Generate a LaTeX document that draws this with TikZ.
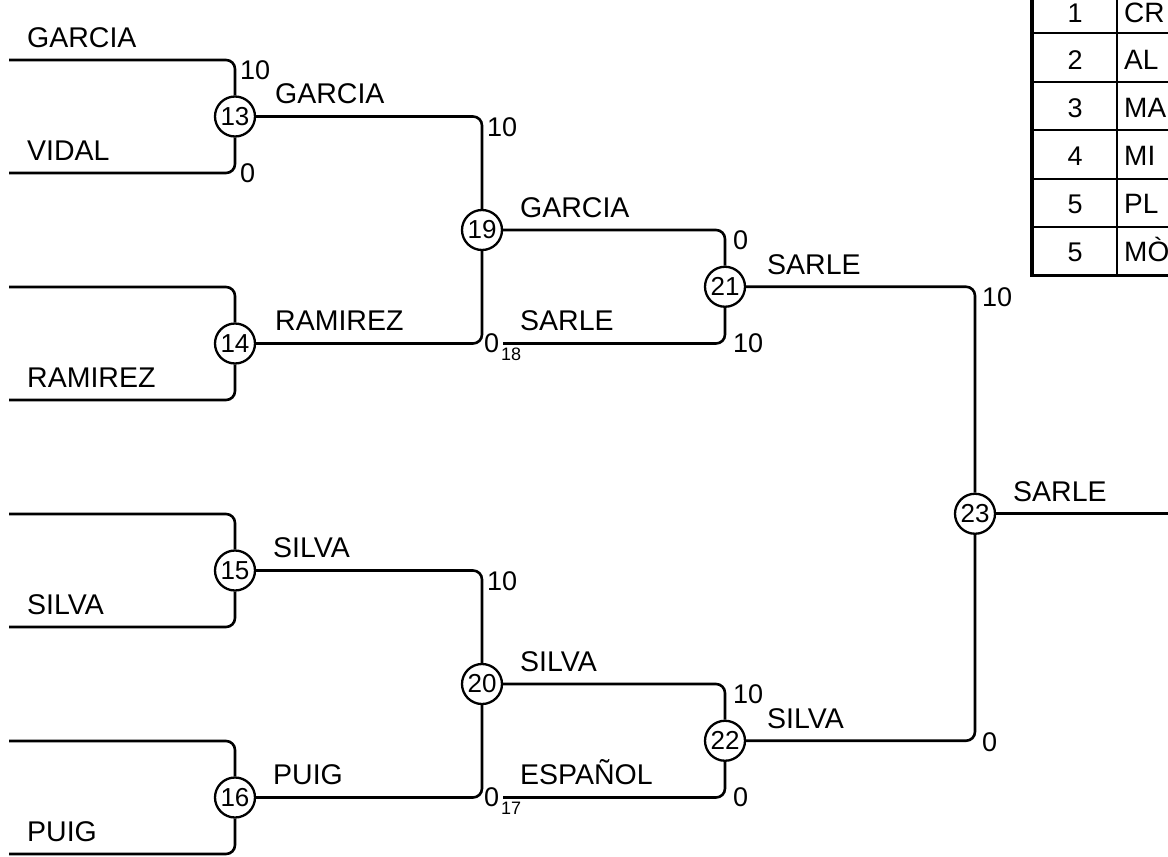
\documentclass[tikz,border=0pt]{standalone}
\usepackage{fontspec}
\setmainfont{Liberation Sans}
\begin{document}
\begin{tikzpicture}[x=1pt,y=-1pt,
 wire/.style={line width=2.6pt, rounded corners=9pt},
 rnd/.style={circle, draw, line width=2.3pt, minimum size=40pt, inner sep=0pt, font=\fontsize{26}{26}\selectfont},
 nm/.style={anchor=base west, inner sep=0pt, font=\fontsize{28.5}{28.5}\selectfont},
 sc/.style={anchor=base west, inner sep=0pt, font=\fontsize{27}{27}\selectfont},
 subsc/.style={anchor=base west, inner sep=0pt, font=\fontsize{18}{18}\selectfont},
 tnum/.style={anchor=base, inner sep=0pt, font=\fontsize{27}{27}\selectfont},
 tname/.style={anchor=base west, inner sep=0pt, font=\fontsize{28}{28}\selectfont},
 tline/.style={line width=2pt},
 tborder/.style={line width=3.5pt},
]
\useasboundingbox (0,0) rectangle (1168,857);
\clip (0,0) rectangle (1168,857);

% round nodes
\node[rnd] (c13) at (235,116.5) {13};
\node[rnd] (c14) at (235,343.5) {14};
\node[rnd] (c15) at (235,570.5) {15};
\node[rnd] (c16) at (235,797.5) {16};
\node[rnd] (c19) at (482,230) {19};
\node[rnd] (c20) at (482,684) {20};
\node[rnd] (c21) at (725,286.75) {21};
\node[rnd] (c22) at (725,740.75) {22};
\node[rnd] (c23) at (975,513.75) {23};

% entry points
\coordinate (e1) at (9,60);
\coordinate (e2) at (9,173);
\coordinate (e3) at (9,287);
\coordinate (e4) at (9,400);
\coordinate (e5) at (9,514);
\coordinate (e6) at (9,627);
\coordinate (e7) at (9,741);
\coordinate (e8) at (9,854);
\coordinate (m18) at (503,343.5);
\coordinate (m17) at (503,797.5);
\coordinate (fin) at (1175,513.75);

% connectors
\draw[wire] (e1) -| (c13);
\draw[wire] (e2) -| (c13);
\draw[wire] (e3) -| (c14);
\draw[wire] (e4) -| (c14);
\draw[wire] (e5) -| (c15);
\draw[wire] (e6) -| (c15);
\draw[wire] (e7) -| (c16);
\draw[wire] (e8) -| (c16);
\draw[wire] (c13) -| (c19);
\draw[wire] (c14) -| (c19);
\draw[wire] (c15) -| (c20);
\draw[wire] (c16) -| (c20);
\draw[wire] (c19) -| (c21);
\draw[wire] (m18) -| (c21);
\draw[wire] (c20) -| (c22);
\draw[wire] (m17) -| (c22);
\draw[wire] (c21) -| (c23);
\draw[wire] (c22) -| (c23);
\draw[wire] (c23) -- (fin);

% entry names
\node[nm] (n1) at (27,47) {GARCIA};
\node[nm] (n2) at (27,160) {VIDAL};
\node[nm] (n4) at (27,387) {RAMIREZ};
\node[nm] (n6) at (27,614) {SILVA};
\node[nm] (n8) at (27,841) {PUIG};

% winner names
\node[nm] (w13) at (275,103.5) {GARCIA};
\node[nm] (w14) at (275,330.5) {RAMIREZ};
\node[nm] (w15) at (273,557.5) {SILVA};
\node[nm] (w16) at (273,784.5) {PUIG};
\node[nm] (w19) at (520,217) {GARCIA};
\node[nm] (w18) at (520,330.5) {SARLE};
\node[nm] (w20) at (520,671) {SILVA};
\node[nm] (w17) at (520,784.5) {ESPAÑOL};
\node[nm] (w21) at (767,274) {SARLE};
\node[nm] (w22) at (767,728) {SILVA};
\node[nm] (w23) at (1013,501) {SARLE};

% scores
\node[sc] (s13a) at (240,79) {10};
\node[sc] (s13b) at (240,182) {0};
\node[sc] (s19a) at (487,136) {10};
\node[sc] (s19b) at (484,352) {0};
\node[subsc] (x18) at (501,360) {18};
\node[sc] (s21a) at (733,249) {0};
\node[sc] (s21b) at (733,352) {10};
\node[sc] (s23a) at (982,306) {10};
\node[sc] (s23b) at (982,751) {0};
\node[sc] (s20a) at (487,590) {10};
\node[sc] (s20b) at (484,806) {0};
\node[subsc] (x17) at (501,814) {17};
\node[sc] (s22a) at (733,703) {10};
\node[sc] (s22b) at (733,806) {0};

% table
\draw[tline] (1032,33) -- (1175,33);
\draw[tline] (1032,81.5) -- (1175,81.5);
\draw[tline] (1032,130) -- (1175,130);
\draw[tline] (1032,178.5) -- (1175,178.5);
\draw[tline] (1032,227) -- (1175,227);
\draw[tline] (1117,-20) -- (1117,275.5);
\draw[tborder] (1032,-20) -- (1032,275.5) -- (1175,275.5);
\node[tnum] (r1) at (1075,22.5) {1};
\node[tnum] (r2) at (1075,69.5) {2};
\node[tnum] (r3) at (1075,117) {3};
\node[tnum] (r4) at (1075,165) {4};
\node[tnum] (r5) at (1075,213) {5};
\node[tnum] (r6) at (1075,261.5) {5};
\node[tname] (q1) at (1124,22.5) {CR};
\node[tname] (q2) at (1124,69.5) {AL};
\node[tname] (q3) at (1124,117) {MA};
\node[tname] (q4) at (1124,165) {MI};
\node[tname] (q5) at (1124,213) {PL};
\node[tname] (q6) at (1124,261.5) {MÒ};
\end{tikzpicture}
\end{document}
